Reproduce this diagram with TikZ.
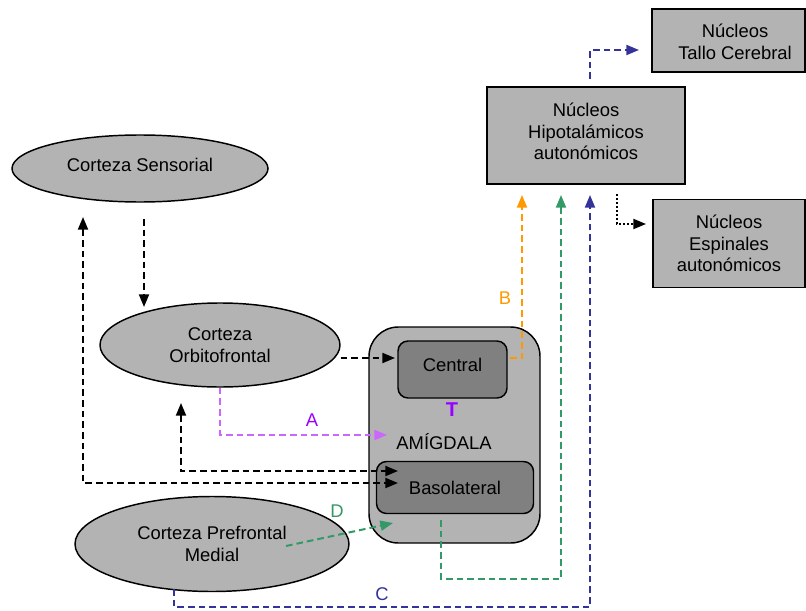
\documentclass[tikz,border=0pt]{standalone}
\usepackage{fontspec}
\setmainfont{Liberation Sans}
\usetikzlibrary{arrows.meta,shapes.geometric}
\definecolor{cellgray}{RGB}{179,179,179}
\definecolor{coregray}{RGB}{128,128,128}
\definecolor{pathA}{RGB}{204,102,255}
\definecolor{labelA}{RGB}{153,0,255}
\definecolor{pathB}{RGB}{255,153,0}
\definecolor{pathC}{RGB}{51,51,153}
\definecolor{pathD}{RGB}{51,153,102}
\begin{document}
\begin{tikzpicture}[x=0.75pt,y=-0.75pt,
  every node/.style={font=\fontsize{13.8}{16.1}\selectfont, align=center, inner sep=0pt},
  oval/.style={ellipse, draw=black, line width=1.1pt, fill=cellgray},
  cell/.style={rectangle, draw=black, line width=1.1pt, fill=cellgray},
  core/.style={cell, fill=coregray, rounded corners=7.5pt},
  link/.style={line width=1.5pt, dash pattern=on 5pt off 3pt, -{Triangle[length=9.5pt,width=7.5pt]}},
  duplex/.style={link, {Triangle[length=9.5pt,width=7.5pt]}-{Triangle[length=9.5pt,width=7.5pt]}},
  dotlink/.style={line width=1.5pt, dash pattern=on 1.5pt off 1.5pt, -{Triangle[length=9.5pt,width=7.5pt]}},
  tag/.style={font=\fontsize{13.8}{16}\selectfont}
]
\useasboundingbox (0,0) rectangle (806,610);

% cortical areas
\node[oval, minimum width=192pt, minimum height=50.25pt, text depth=5pt] (sens) at (140,168.5) {Corteza Sensorial};
\node[oval, minimum width=180pt, minimum height=63pt] (orb) at (220,345) {Corteza\\Orbitofrontal};
\node[oval, minimum width=205.5pt, minimum height=71.25pt] (pref) at (212,544) {Corteza Prefrontal\\Medial};

% amygdala with its nuclei
\node[cell, rounded corners=22pt, minimum width=128.25pt, minimum height=162pt] (amy) at (454.5,435) {};
\node (amyText) at (444,442) {AMÍGDALA};
\node[core, minimum width=81.75pt, minimum height=42.75pt, text depth=7.5pt] (cen) at (452.5,369.5) {Central};
\node[core, minimum width=117.75pt, minimum height=39pt] (baso) at (455,487.5) {Basolateral};
\node[text=labelA, font=\fontsize{15}{15}\selectfont\bfseries] (tee) at (452,410) {T};

% autonomic targets
\node[cell, minimum width=148.5pt, minimum height=72.75pt, text depth=6pt] (hyp) at (586,135.5) {Núcleos\\Hipotalámicos\\autonómicos};
\node[cell, minimum width=114.75pt, minimum height=47.25pt] (tallo) at (728.5,40.5) {};
\node (talloText) at (735,42) {Núcleos\\Tallo Cerebral};
\node[cell, minimum width=114pt, minimum height=66pt] (esp) at (729,243.5) {Núcleos\\Espinales\\autonómicos};

% connector end points
\coordinate (sensOut) at (144,219);
\coordinate (orbIn) at (144,307);
\coordinate (cenIn) at (395,358);
\coordinate (aTip) at (387,435);
\coordinate (orbUp) at (181,403);
\coordinate (basoIn1) at (398,471);
\coordinate (sensUp) at (83,217);
\coordinate (basoIn2) at (398,483);
\coordinate (dStart) at (286,546);
\coordinate (dTip) at (393,523);
\coordinate (bStart) at (510,358);
\coordinate (bTip) at (522,195);
\coordinate (gStart) at (441,520);
\coordinate (gCorner) at (561,579);
\coordinate (gTip) at (561,195);
\coordinate (cStart) at (174,589);
\coordinate (cCorner) at (590,607);
\coordinate (cTip) at (590,195);
\coordinate (hypUp) at (590,79);
\coordinate (talloIn) at (639,50);
\coordinate (hypDown) at (617,194);
\coordinate (espIn) at (646,224);

% cortical pathways
\draw[link] (sensOut) -- (orbIn);
\draw[link] (orb.east |- cenIn) -- (cenIn);
\draw[duplex] (orbUp) |- (basoIn1);
\draw[duplex] (sensUp) |- (basoIn2);

% labelled pathways
\draw[link, color=pathA] (orb.south) |- (aTip);
\node[tag, text=labelA] (labA) at (312,420) {A};
\draw[link, color=pathB] (bStart) -| (bTip);
\node[tag, text=pathB] (labB) at (505,298) {B};
\draw[link, color=pathC] (cStart) |- (cCorner) -- (cTip);
\node[tag, text=pathC] (labC) at (382,594) {C};
\draw[link, color=pathD] (dStart) -- (dTip);
\node[tag, text=pathD] (labD) at (337,511) {D};
\draw[link, color=pathD] (gStart) |- (gCorner) -- (gTip);

% hypothalamic outputs
\draw[link, color=pathC] (hypUp) |- (talloIn);
\draw[dotlink] (hypDown) |- (espIn);
\end{tikzpicture}
\end{document}
